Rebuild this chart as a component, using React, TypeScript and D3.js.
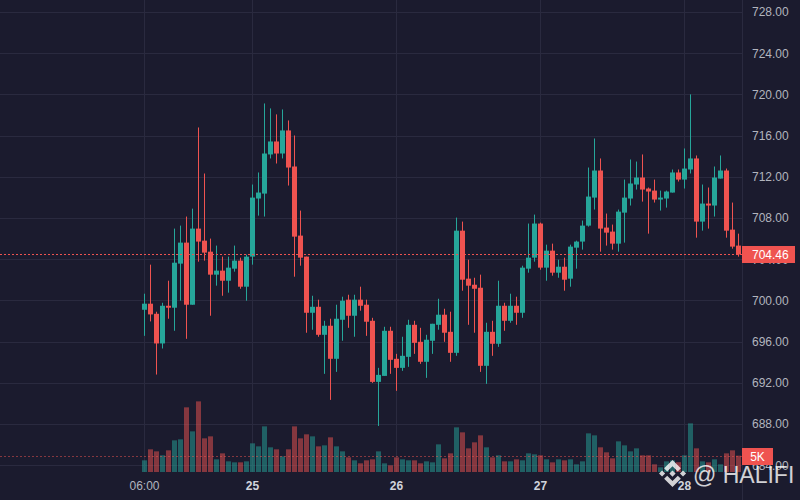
import React, { useEffect, useRef } from 'react';
import * as d3 from 'd3';

// hourly candles starting 24th 06:00
const startTime = new Date(2024, 5, 24, 6, 0);

const opens = [
    699.09, 699.68, 698.7, 695.82, 699.48, 699.29, 703.57, 705.61, 699.58, 706.97,
    705.8, 704.73, 702.5, 702.89, 701.91, 703.08, 703.86, 701.33, 704.25, 709.89,
    710.37, 714.17, 715.43, 714.26, 716.5, 713.0, 706.29, 704.25, 698.8, 699.38,
    696.66, 697.54, 694.33, 698.12, 700.07, 698.51, 700.07, 699.58, 698.02, 692.09,
    692.67, 697.05, 694.33, 693.45, 694.52, 697.63, 695.98, 694.04, 696.08, 697.63,
    698.61, 696.95, 694.91, 706.77, 702.11, 701.52, 701.23, 693.65, 696.95, 695.79,
    699.48, 698.02, 699.48, 698.8, 703.08, 704.15, 707.46, 703.18, 704.83, 702.69,
    703.27, 702.11, 705.12, 705.71, 707.26, 709.98, 712.61, 707.07, 706.68, 705.51,
    708.52, 709.89, 711.25, 711.93, 710.86, 710.66, 709.79, 709.89, 710.47, 712.42,
    711.73, 712.71, 713.78, 707.65, 709.4, 709.21, 711.83, 712.61, 706.87, 705.32,
];
const highs = [
    700.65, 703.47, 698.9, 699.77, 701.91, 706.97, 707.26, 708.14, 708.91, 716.79,
    712.32, 706.0, 705.32, 704.25, 704.25, 705.32, 704.15, 704.44, 711.25, 712.42,
    719.12, 718.64, 718.06, 718.54, 717.47, 716.01, 708.72, 704.25, 700.45, 700.07,
    698.02, 698.22, 699.58, 700.36, 700.55, 700.55, 701.33, 700.07, 698.31, 693.45,
    697.44, 697.44, 694.81, 696.47, 698.12, 698.02, 697.34, 696.66, 697.73, 700.16,
    699.19, 698.9, 708.04, 707.65, 703.95, 702.2, 702.5, 697.83, 698.02, 701.91,
    699.77, 700.65, 700.36, 703.37, 707.46, 708.33, 707.55, 705.41, 705.51, 703.95,
    704.15, 705.41, 705.8, 707.75, 712.9, 715.72, 713.78, 708.43, 707.36, 708.82,
    711.73, 713.68, 713.48, 714.17, 710.96, 711.73, 710.66, 710.66, 712.71, 712.71,
    714.75, 720.0, 714.07, 711.25, 710.96, 713.0, 714.07, 712.8, 709.5, 706.48,
];
const lows = [
    696.56, 697.96, 692.8, 695.33, 698.22, 697.05, 699.97, 696.27, 699.58, 703.76,
    703.86, 698.51, 701.43, 700.45, 700.75, 702.79, 701.13, 699.97, 703.47, 708.23,
    708.14, 713.78, 713.29, 713.78, 711.15, 702.3, 703.37, 696.86, 697.15, 696.47,
    692.87, 690.34, 693.06, 696.08, 697.34, 696.47, 699.0, 696.56, 691.99, 687.81,
    692.67, 692.87, 691.22, 693.16, 693.55, 694.81, 693.84, 692.48, 694.81, 697.15,
    695.98, 694.04, 694.62, 700.94, 697.63, 696.86, 693.06, 691.9, 694.62, 695.49,
    697.05, 697.83, 697.63, 698.31, 702.69, 703.76, 702.98, 701.91, 702.4, 702.2,
    700.94, 701.33, 703.08, 704.93, 707.16, 708.82, 704.73, 705.32, 704.93, 704.73,
    705.61, 709.21, 710.76, 709.59, 706.48, 709.5, 708.72, 709.01, 710.47, 711.54,
    710.86, 712.32, 706.09, 706.77, 706.97, 708.14, 711.83, 706.09, 705.02, 704.25,
];
const closes = [
    699.68, 698.64, 695.82, 699.48, 699.29, 703.66, 705.61, 699.58, 706.97, 705.71,
    704.64, 702.5, 702.89, 701.91, 703.18, 703.86, 701.33, 704.25, 709.98, 710.47,
    714.26, 715.43, 714.26, 716.5, 712.9, 706.19, 704.15, 698.8, 699.38, 696.66,
    697.54, 694.33, 698.22, 699.97, 698.51, 700.07, 699.48, 697.93, 692.09, 692.77,
    697.05, 694.23, 693.45, 694.62, 697.63, 695.88, 694.04, 696.18, 697.73, 698.61,
    696.86, 694.91, 706.77, 702.01, 701.43, 701.13, 693.65, 696.95, 695.79, 699.48,
    698.02, 699.48, 698.8, 703.18, 704.15, 707.46, 703.18, 704.83, 702.69, 703.27,
    702.01, 705.22, 705.71, 707.26, 710.08, 712.61, 706.97, 706.58, 705.51, 708.62,
    709.98, 711.35, 711.93, 710.76, 710.57, 709.79, 709.98, 710.57, 712.42, 711.73,
    712.8, 713.78, 707.65, 709.4, 709.21, 711.93, 712.61, 706.77, 705.22, 704.46,
];
const volumes = [
    3570, 6940, 6320, 5100, 6630, 9690, 10000, 19790, 12440, 21620,
    10300, 10910, 3880, 5710, 3260, 2960, 2960, 3260, 8770, 7850,
    13970, 7550, 6940, 4790, 6940, 13970, 10300, 11530, 10910, 7850,
    8160, 10610, 7850, 6320, 4490, 3570, 2650, 3570, 3880, 6320,
    2650, 2040, 4490, 3880, 3570, 3570, 2650, 3260, 2960, 8470,
    4180, 5710, 13670, 12140, 7240, 9080, 11220, 7550, 4490, 5100,
    3260, 3260, 3880, 3570, 5710, 5410, 5100, 3880, 2960, 3880,
    3570, 3880, 2350, 3260, 11830, 11220, 7550, 6020, 4180, 9380,
    8160, 6320, 7240, 5100, 5100, 2350, 1430, 3260, 3570, 3000,
    5100, 14890, 7240, 3260, 2960, 3880, 2350, 5710, 6630, 5000,
];

const priceTicks = [684, 688, 692, 696, 700, 704, 708, 712, 716, 720, 724, 728];
const timeTicks = [
    new Date(2024, 5, 24, 6, 0),
    new Date(2024, 5, 25),
    new Date(2024, 5, 26),
    new Date(2024, 5, 27),
    new Date(2024, 5, 28),
];
const lastPriceLabel = '704.46';
const lastVolumeLabel = '5K';

const W = 800;
const H = 500;
const plotRight = 742;
const plotBottom = 472;

const BG = '#1b1b2e';
const GRID = '#2a2a3f';
const UP = '#26a69a';
const DOWN = '#ef5350';
const TEXT = '#b2b5be';
const FONT = '"Liberation Sans", Arial, sans-serif';

const App: React.FC = () => {
    const svgRef = useRef<SVGSVGElement>(null);

    useEffect(() => {
        document.body.style.margin = '0';
        document.body.style.background = BG;
        if (!svgRef.current) return;
        const svg = d3.select(svgRef.current);
        svg.selectAll('*').remove();

        const data = opens.map((o, i) => ({
            t: d3.timeHour.offset(startTime, i),
            o,
            h: highs[i],
            l: lows[i],
            c: closes[i],
            v: volumes[i],
            up: closes[i] >= o,
        }));

        const x = d3
            .scaleTime()
            .domain([startTime, d3.timeHour.offset(startTime, 100)])
            .range([144, 744]);
        const y = d3.scaleLinear().domain([684, 728]).range([465.2, 12]);
        const yv = d3.scaleLinear().domain([0, 22500]).range([plotBottom, 398.5]);

        svg.append('rect').attr('width', W).attr('height', H).attr('fill', BG);

        // 网格
        const grid = svg.append('g');
        grid.selectAll('.hg')
            .data(priceTicks)
            .join('line')
            .attr('x1', 0)
            .attr('x2', plotRight)
            .attr('y1', (d) => Math.round(y(d)) + 0.5)
            .attr('y2', (d) => Math.round(y(d)) + 0.5)
            .attr('stroke', GRID);
        grid.selectAll('.vg')
            .data(timeTicks)
            .join('line')
            .attr('x1', (d) => Math.round(x(d)) + 0.5)
            .attr('x2', (d) => Math.round(x(d)) + 0.5)
            .attr('y1', 0)
            .attr('y2', plotBottom)
            .attr('stroke', GRID);

        const clip = svg
            .append('defs')
            .append('clipPath')
            .attr('id', 'plot-clip')
            .append('rect')
            .attr('width', plotRight)
            .attr('height', plotBottom);
        void clip;

        const plot = svg.append('g').attr('clip-path', 'url(#plot-clip)');

        // 成交量
        plot.selectAll('.vol')
            .data(data)
            .join('rect')
            .attr('x', (d) => Math.round(x(d.t)) - 2)
            .attr('width', 5)
            .attr('y', (d) => yv(d.v))
            .attr('height', (d) => plotBottom - yv(d.v))
            .attr('fill', (d) => (d.up ? UP : DOWN))
            .attr('opacity', 0.5);

        plot.append('line')
            .attr('x1', 0)
            .attr('x2', plotRight)
            .attr('y1', Math.round(yv(volumes[volumes.length - 1])) + 0.5)
            .attr('y2', Math.round(yv(volumes[volumes.length - 1])) + 0.5)
            .attr('stroke', DOWN)
            .attr('stroke-opacity', 0.5)
            .attr('stroke-dasharray', '2,2');

        // 蜡烛
        const candles = plot.selectAll('.candle').data(data).join('g');
        candles
            .append('line')
            .attr('x1', (d) => Math.round(x(d.t)) + 0.5)
            .attr('x2', (d) => Math.round(x(d.t)) + 0.5)
            .attr('y1', (d) => y(d.h))
            .attr('y2', (d) => y(d.l))
            .attr('stroke', (d) => (d.up ? UP : DOWN));
        candles
            .append('rect')
            .attr('x', (d) => Math.round(x(d.t)) - 2)
            .attr('width', 5)
            .attr('y', (d) => y(Math.max(d.o, d.c)))
            .attr('height', (d) =>
                Math.max(1, Math.abs(y(d.o) - y(d.c))),
            )
            .attr('fill', (d) => (d.up ? UP : DOWN));

        // 最新价虚线
        const lastY = Math.round(y(closes[closes.length - 1])) + 0.5;
        svg.append('line')
            .attr('x1', 0)
            .attr('x2', plotRight)
            .attr('y1', lastY)
            .attr('y2', lastY)
            .attr('stroke', DOWN)
            .attr('stroke-dasharray', '2,2');

        // 右侧价格轴
        svg.append('line')
            .attr('x1', plotRight + 0.5)
            .attr('x2', plotRight + 0.5)
            .attr('y1', 0)
            .attr('y2', H)
            .attr('stroke', GRID);

        const yAxis = svg
            .append('g')
            .attr('transform', `translate(${plotRight}, 0)`)
            .call(
                d3
                    .axisRight(y)
                    .tickValues(priceTicks)
                    .tickSize(0)
                    .tickPadding(10)
                    .tickFormat((d) => (d as number).toFixed(2)),
            );
        yAxis.select('.domain').remove();
        yAxis.selectAll('text')
            .style('font-family', FONT)
            .style('font-size', '12px')
            .style('fill', TEXT);

        // 底部时间轴
        const xAxis = svg
            .append('g')
            .attr('transform', `translate(0, ${plotBottom})`)
            .call(
                d3
                    .axisBottom(x)
                    .tickValues(timeTicks)
                    .tickSize(0)
                    .tickPadding(9)
                    .tickFormat((d) => {
                        const dt = d as Date;
                        return dt.getHours() === 0
                            ? d3.timeFormat('%-d')(dt)
                            : d3.timeFormat('%H:%M')(dt);
                    }),
            );
        xAxis.select('.domain').remove();
        xAxis.selectAll<SVGTextElement, Date>('text')
            .style('font-family', FONT)
            .style('font-size', '12px')
            .style('font-weight', (d) => (d.getHours() === 0 ? 'bold' : 'normal'))
            .style('fill', (d) => (d.getHours() === 0 ? '#d1d4dc' : TEXT));

        // 价格标签
        svg.append('rect')
            .attr('x', plotRight)
            .attr('y', lastY - 8.5)
            .attr('width', 53)
            .attr('height', 17)
            .attr('fill', DOWN);
        svg.append('text')
            .attr('x', plotRight + 10)
            .attr('y', lastY)
            .attr('dy', '0.35em')
            .style('font-family', FONT)
            .style('font-size', '12px')
            .style('fill', '#ffffff')
            .text(lastPriceLabel);

        // 水印
        const wm = svg.append('g').attr('opacity', 0.8);
        wm.append('path')
            .attr('transform', 'translate(659, 460) scale(0.215)')
            .attr(
                'd',
                'M38.171 53.203L62.759 28.616l24.6 24.6 14.306-14.307L62.759 0 23.864 38.896z M0 63.001l14.307-14.308 14.306 14.307L14.307 77.307z M38.171 72.798l24.588 24.587 24.6-24.6 14.313 14.3L62.759 126 23.864 87.105z M97.386 63.001l14.306-14.307 14.307 14.306-14.307 14.307z M77.271 62.993L62.759 48.474 48.256 62.978 62.759 77.501z',
            )
            .attr('fill', '#ffffff');
        wm.append('text')
            .attr('x', 693)
            .attr('y', 483)
            .style('font-family', FONT)
            .style('font-size', '23px')
            .style('fill', '#ffffff')
            .text('@ HALIFI');

        // 成交量标签
        const vY = Math.round(yv(volumes[volumes.length - 1]));
        svg.append('rect')
            .attr('x', plotRight)
            .attr('y', vY - 8)
            .attr('width', 31)
            .attr('height', 17)
            .attr('fill', DOWN);
        svg.append('text')
            .attr('x', plotRight + 15.5)
            .attr('y', vY + 0.5)
            .attr('dy', '0.35em')
            .attr('text-anchor', 'middle')
            .style('font-family', FONT)
            .style('font-size', '12px')
            .style('fill', '#ffffff')
            .text(lastVolumeLabel);
    }, []);

    return (
        <svg
            ref={svgRef}
            width={W}
            height={H}
            style={{ display: 'block' }}
        />
    );
};

export default App;
